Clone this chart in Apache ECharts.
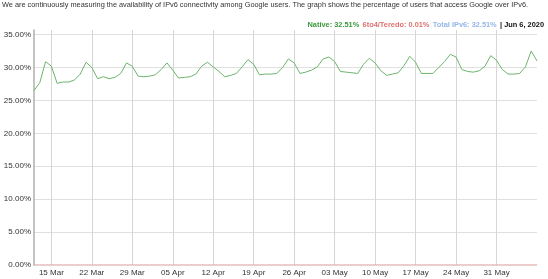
<!DOCTYPE html>
<html>
<head>
<meta charset="utf-8">
<script src="https://cdn.jsdelivr.net/npm/echarts@6/dist/echarts.min.js"></script>
<style>
    html,body{margin:0;padding:0;background:#fff;}
    #chart{width:548px;height:279px;}
</style>
</head>
<body>
<div id="chart"></div>
<script>
// daily share of users reaching Google over native IPv6 (%), from 12 Mar 2020
var startDate = [2020, 2, 12];
var nativeValues = [
    26.5, 27.7, 30.9, 30.2, 27.6, 27.8, 27.8, 28.1, 29.0, 30.8,
    30.0, 28.3, 28.6, 28.3, 28.5, 29.1, 30.7, 30.2, 28.7, 28.6,
    28.7, 28.9, 29.7, 30.7, 29.6, 28.4, 28.5, 28.6, 29.0, 30.2,
    30.8, 30.1, 29.4, 28.6, 28.8, 29.1, 30.1, 31.2, 30.5, 28.9,
    29.0, 29.0, 29.1, 30.0, 31.3, 30.7, 29.1, 29.3, 29.6, 30.1,
    31.3, 31.6, 30.9, 29.4, 29.3, 29.2, 29.1, 30.5, 31.4, 30.7,
    29.5, 28.8, 29.0, 29.2, 30.3, 31.7, 30.8, 29.1, 29.1, 29.1,
    30.0, 30.9, 32.0, 31.6, 29.7, 29.4, 29.3, 29.5, 30.2, 31.8,
    31.1, 29.7, 29.0, 29.0, 29.1, 30.1, 32.5, 31.0
];
// 6to4/Teredo share, flat near zero
var teredoValues = [
    0.01, 0.01, 0.01, 0.01, 0.01, 0.01, 0.01, 0.01, 0.01, 0.01,
    0.01, 0.01, 0.01, 0.01, 0.01, 0.01, 0.01, 0.01, 0.01, 0.01,
    0.01, 0.01, 0.01, 0.01, 0.01, 0.01, 0.01, 0.01, 0.01, 0.01,
    0.01, 0.01, 0.01, 0.01, 0.01, 0.01, 0.01, 0.01, 0.01, 0.01,
    0.01, 0.01, 0.01, 0.01, 0.01, 0.01, 0.01, 0.01, 0.01, 0.01,
    0.01, 0.01, 0.01, 0.01, 0.01, 0.01, 0.01, 0.01, 0.01, 0.01,
    0.01, 0.01, 0.01, 0.01, 0.01, 0.01, 0.01, 0.01, 0.01, 0.01,
    0.01, 0.01, 0.01, 0.01, 0.01, 0.01, 0.01, 0.01, 0.01, 0.01,
    0.01, 0.01, 0.01, 0.01, 0.01, 0.01, 0.01, 0.01
];
var yTicks = [0, 5, 10, 15, 20, 25, 30, 35];
var months = ['Jan','Feb','Mar','Apr','May','Jun','Jul','Aug','Sep','Oct','Nov','Dec'];
var headerText = 'We are continuously measuring the availability of IPv6 connectivity among Google users. The graph shows the percentage of users that access Google over IPv6.';

var categories = [];
for (var i = 0; i < nativeValues.length; i++) {
    var d = new Date(startDate[0], startDate[1], startDate[2] + i);
    var dd = d.getDate() < 10 ? '0' + d.getDate() : '' + d.getDate();
    categories.push(dd + ' ' + months[d.getMonth()]);
}
// week marks on Sundays, but not on the last day at the right edge
function onSunday(index) {
    return (index - 3) % 7 === 0 && index < categories.length - 1;
}

var chart = echarts.init(document.getElementById('chart'));
chart.setOption({
    animation: false,
    grid: {left: 34, right: 11, top: 30, bottom: 14},
    graphic: [
        {
            type: 'text', left: 2, top: 1,
            style: {text: headerText, fontFamily: 'Liberation Sans', fontSize: 7.35, fill: '#333'}
        },
        {
            type: 'text', right: 4, top: 19,
            style: {
                text: '{g|Native: 32.51%} {r|6to4/Teredo: 0.01%} {b|Total IPv6: 32.51%} {k|| Jun 6, 2020}',
                rich: {
                    g: {fill: '#3d9a3d', fontWeight: 'bold', fontSize: 7.4, fontFamily: 'Liberation Sans'},
                    r: {fill: '#e07070', fontWeight: 'bold', fontSize: 7.4, fontFamily: 'Liberation Sans'},
                    b: {fill: '#94b6e8', fontWeight: 'bold', fontSize: 7.4, fontFamily: 'Liberation Sans'},
                    k: {fill: '#111', fontWeight: 'bold', fontSize: 7.4, fontFamily: 'Liberation Sans'}
                }
            }
        }
    ],
    xAxis: {
        type: 'category',
        data: categories,
        boundaryGap: false,
        axisLine: {show: false},
        axisTick: {show: false},
        axisLabel: {
            interval: function (index) { return onSunday(index); },
            fontSize: 8, color: '#333', fontFamily: 'Liberation Sans', margin: 4
        },
        splitLine: {
            show: true,
            interval: function (index) { return onSunday(index); },
            lineStyle: {color: '#d6d6d6', width: 1}
        }
    },
    yAxis: {
        type: 'value',
        min: 0,
        max: 35.7,
        interval: 5,
        axisLine: {show: true, lineStyle: {color: '#b0b0b0', width: 1.5}},
        axisTick: {show: false},
        axisLabel: {
            showMaxLabel: false,
            formatter: function (v) { return yTicks.indexOf(v) >= 0 ? v.toFixed(2) + '%' : ''; },
            fontSize: 8, color: '#333', fontFamily: 'Liberation Sans', margin: 3
        },
        splitLine: {showMaxLine: false, lineStyle: {color: '#e0e0e0', width: 1}}
    },
    series: [
        {
            name: '6to4/Teredo',
            type: 'line',
            data: teredoValues,
            symbol: 'none',
            lineStyle: {color: '#e8a0a0', width: 1}
        },
        {
            name: 'Native',
            type: 'line',
            data: nativeValues,
            symbol: 'none',
            lineStyle: {color: '#6cb46c', width: 1}
        }
    ]
});
</script>
</body>
</html>
